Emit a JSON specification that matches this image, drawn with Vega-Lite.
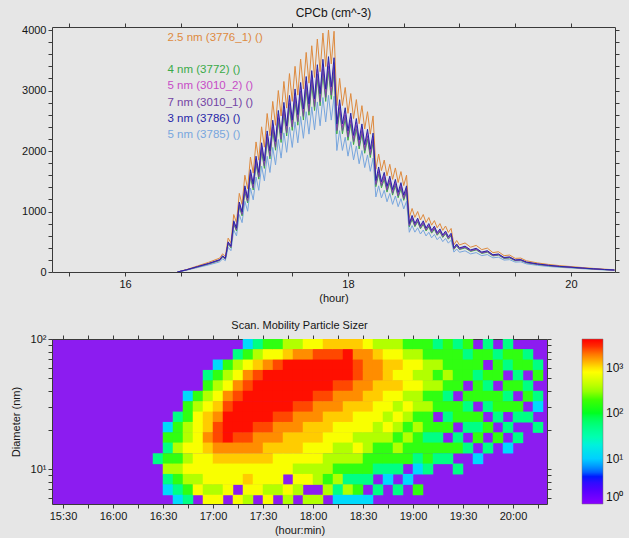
{
"$schema": "https://vega.github.io/schema/vega-lite/v6.json",
"background": "#e6e6e6",
"padding": {"left": 10, "top": 6, "right": 5, "bottom": 3},
"spacing": 17,
"config": {
 "font": "Liberation Sans",
 "view": {"stroke": null},
 "axis": {"grid": false, "domainColor": "#3a3a3a", "tickColor": "#3a3a3a", "labelColor": "#151515", "titleColor": "#151515", "labelFontSize": 11, "titleFontSize": 11, "titleFontWeight": "normal", "tickSize": 4, "labelPadding": 2, "labelFont": "Liberation Sans", "titleFont": "Liberation Sans", "labelFlush": false},
 "title": {"font": "Liberation Sans", "fontWeight": "normal", "color": "#151515"},
 "legend": {"labelFont": "Liberation Sans"}
},
"vconcat": [
{
 "width": 563, "height": 245,
 "title": {"text": "CPCb (cm^-3)", "fontSize": 12, "offset": 3},
 "data": {"values": [
{"s":"o","t":16.47,"v":0},{"s":"o","t":16.55,"v":40},{"s":"o","t":16.65,"v":100},{"s":"o","t":16.75,"v":160},{"s":"o","t":16.85,"v":230},
{"s":"o","t":16.875,"v":300},{"s":"o","t":16.9,"v":258},{"s":"o","t":16.925,"v":560},{"s":"o","t":16.95,"v":482},{"s":"o","t":16.975,"v":950},{"s":"o","t":17,"v":817},{"s":"o","t":17.025,"v":1300},{"s":"o","t":17.05,"v":1118},{"s":"o","t":17.075,"v":1600},{"s":"o","t":17.1,"v":1376},{"s":"o","t":17.125,"v":1900},{"s":"o","t":17.15,"v":1634},{"s":"o","t":17.175,"v":2150},{"s":"o","t":17.2,"v":1849},{"s":"o","t":17.225,"v":2400},{"s":"o","t":17.25,"v":2064},{"s":"o","t":17.275,"v":2620},{"s":"o","t":17.3,"v":2253},{"s":"o","t":17.325,"v":2820},{"s":"o","t":17.35,"v":2425},{"s":"o","t":17.375,"v":3000},{"s":"o","t":17.4,"v":2580},{"s":"o","t":17.425,"v":3150},{"s":"o","t":17.45,"v":2709},{"s":"o","t":17.475,"v":3280},{"s":"o","t":17.5,"v":2821},{"s":"o","t":17.525,"v":3400},{"s":"o","t":17.55,"v":2924},{"s":"o","t":17.575,"v":3520},{"s":"o","t":17.6,"v":3027},{"s":"o","t":17.625,"v":3630},{"s":"o","t":17.65,"v":3122},{"s":"o","t":17.675,"v":3740},{"s":"o","t":17.7,"v":3216},{"s":"o","t":17.725,"v":3850},{"s":"o","t":17.75,"v":3311},{"s":"o","t":17.775,"v":3950},{"s":"o","t":17.8,"v":3397},{"s":"o","t":17.825,"v":4000},{"s":"o","t":17.85,"v":3440},{"s":"o","t":17.875,"v":3980},{"s":"o","t":17.9,"v":2750},{"s":"o","t":17.925,"v":3200},{"s":"o","t":17.95,"v":2752},{"s":"o","t":17.975,"v":3050},{"s":"o","t":18,"v":2623},{"s":"o","t":18.025,"v":2950},{"s":"o","t":18.05,"v":2537},{"s":"o","t":18.075,"v":2850},{"s":"o","t":18.1,"v":2451},{"s":"o","t":18.125,"v":2750},{"s":"o","t":18.15,"v":2365},{"s":"o","t":18.175,"v":2650},{"s":"o","t":18.2,"v":2279},{"s":"o","t":18.225,"v":2580},{"s":"o","t":18.25,"v":1700},{"s":"o","t":18.275,"v":1950},{"s":"o","t":18.3,"v":1677},{"s":"o","t":18.325,"v":1850},{"s":"o","t":18.35,"v":1591},{"s":"o","t":18.375,"v":1780},{"s":"o","t":18.4,"v":1531},{"s":"o","t":18.425,"v":1720},{"s":"o","t":18.45,"v":1479},{"s":"o","t":18.475,"v":1660},{"s":"o","t":18.5,"v":1428},{"s":"o","t":18.525,"v":1600},{"s":"o","t":18.55,"v":900},{"s":"o","t":18.575,"v":1050},{"s":"o","t":18.6,"v":903},{"s":"o","t":18.625,"v":1000},{"s":"o","t":18.65,"v":860},{"s":"o","t":18.675,"v":950},{"s":"o","t":18.7,"v":817},{"s":"o","t":18.725,"v":900},{"s":"o","t":18.75,"v":774},{"s":"o","t":18.775,"v":850},{"s":"o","t":18.8,"v":731},{"s":"o","t":18.825,"v":800},{"s":"o","t":18.85,"v":688},{"s":"o","t":18.875,"v":760},{"s":"o","t":18.9,"v":654},{"s":"o","t":18.925,"v":720},{"s":"o","t":18.95,"v":450},{"s":"o","t":18.975,"v":520},{"s":"o","t":19,"v":447},
{"s":"o","t":19.05,"v":480},{"s":"o","t":19.1,"v":410},{"s":"o","t":19.15,"v":440},{"s":"o","t":19.2,"v":370},{"s":"o","t":19.25,"v":395},{"s":"o","t":19.3,"v":320},{"s":"o","t":19.35,"v":335},{"s":"o","t":19.4,"v":270},{"s":"o","t":19.45,"v":280},{"s":"o","t":19.5,"v":225},{"s":"o","t":19.55,"v":230},{"s":"o","t":19.6,"v":185},{"s":"o","t":19.7,"v":150},{"s":"o","t":19.8,"v":125},{"s":"o","t":19.9,"v":105},{"s":"o","t":20,"v":90},{"s":"o","t":20.1,"v":74},{"s":"o","t":20.2,"v":60},{"s":"o","t":20.3,"v":47},{"s":"o","t":20.39,"v":37},
{"s":"b","t":16.47,"v":0},{"s":"b","t":16.55,"v":29},{"s":"b","t":16.65,"v":73},{"s":"b","t":16.75,"v":117},{"s":"b","t":16.85,"v":168},
{"s":"b","t":16.875,"v":219},{"s":"b","t":16.9,"v":188},{"s":"b","t":16.925,"v":409},{"s":"b","t":16.95,"v":352},{"s":"b","t":16.975,"v":694},{"s":"b","t":17,"v":596},{"s":"b","t":17.025,"v":949},{"s":"b","t":17.05,"v":816},{"s":"b","t":17.075,"v":1168},{"s":"b","t":17.1,"v":1004},{"s":"b","t":17.125,"v":1387},{"s":"b","t":17.15,"v":1193},{"s":"b","t":17.175,"v":1570},{"s":"b","t":17.2,"v":1350},{"s":"b","t":17.225,"v":1752},{"s":"b","t":17.25,"v":1507},{"s":"b","t":17.275,"v":1913},{"s":"b","t":17.3,"v":1645},{"s":"b","t":17.325,"v":2059},{"s":"b","t":17.35,"v":1770},{"s":"b","t":17.375,"v":2190},{"s":"b","t":17.4,"v":1883},{"s":"b","t":17.425,"v":2300},{"s":"b","t":17.45,"v":1978},{"s":"b","t":17.475,"v":2394},{"s":"b","t":17.5,"v":2059},{"s":"b","t":17.525,"v":2482},{"s":"b","t":17.55,"v":2135},{"s":"b","t":17.575,"v":2570},{"s":"b","t":17.6,"v":2210},{"s":"b","t":17.625,"v":2650},{"s":"b","t":17.65,"v":2279},{"s":"b","t":17.675,"v":2730},{"s":"b","t":17.7,"v":2348},{"s":"b","t":17.725,"v":2811},{"s":"b","t":17.75,"v":2417},{"s":"b","t":17.775,"v":2884},{"s":"b","t":17.8,"v":2480},{"s":"b","t":17.825,"v":2920},{"s":"b","t":17.85,"v":2511},{"s":"b","t":17.875,"v":2905},{"s":"b","t":17.9,"v":2008},{"s":"b","t":17.925,"v":2336},{"s":"b","t":17.95,"v":2009},{"s":"b","t":17.975,"v":2227},{"s":"b","t":18,"v":1915},{"s":"b","t":18.025,"v":2154},{"s":"b","t":18.05,"v":1852},{"s":"b","t":18.075,"v":2081},{"s":"b","t":18.1,"v":1789},{"s":"b","t":18.125,"v":2008},{"s":"b","t":18.15,"v":1726},{"s":"b","t":18.175,"v":1935},{"s":"b","t":18.2,"v":1664},{"s":"b","t":18.225,"v":1883},{"s":"b","t":18.25,"v":1241},{"s":"b","t":18.275,"v":1424},{"s":"b","t":18.3,"v":1224},{"s":"b","t":18.325,"v":1351},{"s":"b","t":18.35,"v":1161},{"s":"b","t":18.375,"v":1299},{"s":"b","t":18.4,"v":1118},{"s":"b","t":18.425,"v":1256},{"s":"b","t":18.45,"v":1080},{"s":"b","t":18.475,"v":1212},{"s":"b","t":18.5,"v":1042},{"s":"b","t":18.525,"v":1168},{"s":"b","t":18.55,"v":657},{"s":"b","t":18.575,"v":767},{"s":"b","t":18.6,"v":659},{"s":"b","t":18.625,"v":730},{"s":"b","t":18.65,"v":628},{"s":"b","t":18.675,"v":694},{"s":"b","t":18.7,"v":596},{"s":"b","t":18.725,"v":657},{"s":"b","t":18.75,"v":565},{"s":"b","t":18.775,"v":621},{"s":"b","t":18.8,"v":534},{"s":"b","t":18.825,"v":584},{"s":"b","t":18.85,"v":502},{"s":"b","t":18.875,"v":555},{"s":"b","t":18.9,"v":477},{"s":"b","t":18.925,"v":526},{"s":"b","t":18.95,"v":329},{"s":"b","t":18.975,"v":380},{"s":"b","t":19,"v":326},
{"s":"b","t":19.05,"v":350},{"s":"b","t":19.1,"v":299},{"s":"b","t":19.15,"v":321},{"s":"b","t":19.2,"v":270},{"s":"b","t":19.25,"v":288},{"s":"b","t":19.3,"v":234},{"s":"b","t":19.35,"v":245},{"s":"b","t":19.4,"v":197},{"s":"b","t":19.45,"v":204},{"s":"b","t":19.5,"v":164},{"s":"b","t":19.55,"v":168},{"s":"b","t":19.6,"v":135},{"s":"b","t":19.7,"v":110},{"s":"b","t":19.8,"v":91},{"s":"b","t":19.9,"v":77},{"s":"b","t":20,"v":66},{"s":"b","t":20.1,"v":54},{"s":"b","t":20.2,"v":44},{"s":"b","t":20.3,"v":34},{"s":"b","t":20.39,"v":27},
{"s":"g","t":16.47,"v":0},{"s":"g","t":16.55,"v":33},{"s":"g","t":16.65,"v":83},{"s":"g","t":16.75,"v":133},{"s":"g","t":16.85,"v":191},
{"s":"g","t":16.875,"v":249},{"s":"g","t":16.9,"v":214},{"s":"g","t":16.925,"v":465},{"s":"g","t":16.95,"v":400},{"s":"g","t":16.975,"v":789},{"s":"g","t":17,"v":678},{"s":"g","t":17.025,"v":1079},{"s":"g","t":17.05,"v":928},{"s":"g","t":17.075,"v":1328},{"s":"g","t":17.1,"v":1142},{"s":"g","t":17.125,"v":1577},{"s":"g","t":17.15,"v":1356},{"s":"g","t":17.175,"v":1785},{"s":"g","t":17.2,"v":1535},{"s":"g","t":17.225,"v":1992},{"s":"g","t":17.25,"v":1713},{"s":"g","t":17.275,"v":2175},{"s":"g","t":17.3,"v":1870},{"s":"g","t":17.325,"v":2341},{"s":"g","t":17.35,"v":2013},{"s":"g","t":17.375,"v":2490},{"s":"g","t":17.4,"v":2141},{"s":"g","t":17.425,"v":2615},{"s":"g","t":17.45,"v":2248},{"s":"g","t":17.475,"v":2722},{"s":"g","t":17.5,"v":2341},{"s":"g","t":17.525,"v":2822},{"s":"g","t":17.55,"v":2427},{"s":"g","t":17.575,"v":2922},{"s":"g","t":17.6,"v":2512},{"s":"g","t":17.625,"v":3013},{"s":"g","t":17.65,"v":2591},{"s":"g","t":17.675,"v":3104},{"s":"g","t":17.7,"v":2669},{"s":"g","t":17.725,"v":3196},{"s":"g","t":17.75,"v":2748},{"s":"g","t":17.775,"v":3279},{"s":"g","t":17.8,"v":2820},{"s":"g","t":17.825,"v":3320},{"s":"g","t":17.85,"v":2855},{"s":"g","t":17.875,"v":3303},{"s":"g","t":17.9,"v":2283},{"s":"g","t":17.925,"v":2656},{"s":"g","t":17.95,"v":2284},{"s":"g","t":17.975,"v":2532},{"s":"g","t":18,"v":2177},{"s":"g","t":18.025,"v":2449},{"s":"g","t":18.05,"v":2106},{"s":"g","t":18.075,"v":2366},{"s":"g","t":18.1,"v":2034},{"s":"g","t":18.125,"v":2283},{"s":"g","t":18.15,"v":1963},{"s":"g","t":18.175,"v":2200},{"s":"g","t":18.2,"v":1892},{"s":"g","t":18.225,"v":2141},{"s":"g","t":18.25,"v":1411},{"s":"g","t":18.275,"v":1619},{"s":"g","t":18.3,"v":1392},{"s":"g","t":18.325,"v":1536},{"s":"g","t":18.35,"v":1321},{"s":"g","t":18.375,"v":1477},{"s":"g","t":18.4,"v":1271},{"s":"g","t":18.425,"v":1428},{"s":"g","t":18.45,"v":1228},{"s":"g","t":18.475,"v":1378},{"s":"g","t":18.5,"v":1185},{"s":"g","t":18.525,"v":1328},{"s":"g","t":18.55,"v":747},{"s":"g","t":18.575,"v":872},{"s":"g","t":18.6,"v":749},{"s":"g","t":18.625,"v":830},{"s":"g","t":18.65,"v":714},{"s":"g","t":18.675,"v":789},{"s":"g","t":18.7,"v":678},{"s":"g","t":18.725,"v":747},{"s":"g","t":18.75,"v":642},{"s":"g","t":18.775,"v":706},{"s":"g","t":18.8,"v":607},{"s":"g","t":18.825,"v":664},{"s":"g","t":18.85,"v":571},{"s":"g","t":18.875,"v":631},{"s":"g","t":18.9,"v":543},{"s":"g","t":18.925,"v":598},{"s":"g","t":18.95,"v":374},{"s":"g","t":18.975,"v":432},{"s":"g","t":19,"v":371},
{"s":"g","t":19.05,"v":398},{"s":"g","t":19.1,"v":340},{"s":"g","t":19.15,"v":365},{"s":"g","t":19.2,"v":307},{"s":"g","t":19.25,"v":328},{"s":"g","t":19.3,"v":266},{"s":"g","t":19.35,"v":278},{"s":"g","t":19.4,"v":224},{"s":"g","t":19.45,"v":232},{"s":"g","t":19.5,"v":187},{"s":"g","t":19.55,"v":191},{"s":"g","t":19.6,"v":154},{"s":"g","t":19.7,"v":125},{"s":"g","t":19.8,"v":104},{"s":"g","t":19.9,"v":87},{"s":"g","t":20,"v":75},{"s":"g","t":20.1,"v":61},{"s":"g","t":20.2,"v":50},{"s":"g","t":20.3,"v":39},{"s":"g","t":20.39,"v":31},
{"s":"m","t":16.47,"v":0},{"s":"m","t":16.55,"v":35},{"s":"m","t":16.65,"v":87},{"s":"m","t":16.75,"v":139},{"s":"m","t":16.85,"v":200},
{"s":"m","t":16.875,"v":261},{"s":"m","t":16.9,"v":224},{"s":"m","t":16.925,"v":487},{"s":"m","t":16.95,"v":419},{"s":"m","t":16.975,"v":827},{"s":"m","t":17,"v":711},{"s":"m","t":17.025,"v":1131},{"s":"m","t":17.05,"v":973},{"s":"m","t":17.075,"v":1392},{"s":"m","t":17.1,"v":1197},{"s":"m","t":17.125,"v":1653},{"s":"m","t":17.15,"v":1422},{"s":"m","t":17.175,"v":1871},{"s":"m","t":17.2,"v":1609},{"s":"m","t":17.225,"v":2088},{"s":"m","t":17.25,"v":1796},{"s":"m","t":17.275,"v":2279},{"s":"m","t":17.3,"v":1960},{"s":"m","t":17.325,"v":2453},{"s":"m","t":17.35,"v":2110},{"s":"m","t":17.375,"v":2610},{"s":"m","t":17.4,"v":2245},{"s":"m","t":17.425,"v":2741},{"s":"m","t":17.45,"v":2357},{"s":"m","t":17.475,"v":2854},{"s":"m","t":17.5,"v":2454},{"s":"m","t":17.525,"v":2958},{"s":"m","t":17.55,"v":2544},{"s":"m","t":17.575,"v":3062},{"s":"m","t":17.6,"v":2633},{"s":"m","t":17.625,"v":3158},{"s":"m","t":17.65,"v":2716},{"s":"m","t":17.675,"v":3254},{"s":"m","t":17.7,"v":2798},{"s":"m","t":17.725,"v":3350},{"s":"m","t":17.75,"v":2881},{"s":"m","t":17.775,"v":3437},{"s":"m","t":17.8,"v":2955},{"s":"m","t":17.825,"v":3480},{"s":"m","t":17.85,"v":2993},{"s":"m","t":17.875,"v":3463},{"s":"m","t":17.9,"v":2393},{"s":"m","t":17.925,"v":2784},{"s":"m","t":17.95,"v":2394},{"s":"m","t":17.975,"v":2654},{"s":"m","t":18,"v":2282},{"s":"m","t":18.025,"v":2567},{"s":"m","t":18.05,"v":2207},{"s":"m","t":18.075,"v":2480},{"s":"m","t":18.1,"v":2132},{"s":"m","t":18.125,"v":2393},{"s":"m","t":18.15,"v":2058},{"s":"m","t":18.175,"v":2306},{"s":"m","t":18.2,"v":1983},{"s":"m","t":18.225,"v":2245},{"s":"m","t":18.25,"v":1479},{"s":"m","t":18.275,"v":1697},{"s":"m","t":18.3,"v":1459},{"s":"m","t":18.325,"v":1610},{"s":"m","t":18.35,"v":1384},{"s":"m","t":18.375,"v":1549},{"s":"m","t":18.4,"v":1332},{"s":"m","t":18.425,"v":1496},{"s":"m","t":18.45,"v":1287},{"s":"m","t":18.475,"v":1444},{"s":"m","t":18.5,"v":1242},{"s":"m","t":18.525,"v":1392},{"s":"m","t":18.55,"v":783},{"s":"m","t":18.575,"v":914},{"s":"m","t":18.6,"v":786},{"s":"m","t":18.625,"v":870},{"s":"m","t":18.65,"v":748},{"s":"m","t":18.675,"v":827},{"s":"m","t":18.7,"v":711},{"s":"m","t":18.725,"v":783},{"s":"m","t":18.75,"v":673},{"s":"m","t":18.775,"v":740},{"s":"m","t":18.8,"v":636},{"s":"m","t":18.825,"v":696},{"s":"m","t":18.85,"v":599},{"s":"m","t":18.875,"v":661},{"s":"m","t":18.9,"v":569},{"s":"m","t":18.925,"v":626},{"s":"m","t":18.95,"v":392},{"s":"m","t":18.975,"v":452},{"s":"m","t":19,"v":389},
{"s":"m","t":19.05,"v":418},{"s":"m","t":19.1,"v":357},{"s":"m","t":19.15,"v":383},{"s":"m","t":19.2,"v":322},{"s":"m","t":19.25,"v":344},{"s":"m","t":19.3,"v":278},{"s":"m","t":19.35,"v":291},{"s":"m","t":19.4,"v":235},{"s":"m","t":19.45,"v":244},{"s":"m","t":19.5,"v":196},{"s":"m","t":19.55,"v":200},{"s":"m","t":19.6,"v":161},{"s":"m","t":19.7,"v":131},{"s":"m","t":19.8,"v":109},{"s":"m","t":19.9,"v":91},{"s":"m","t":20,"v":78},{"s":"m","t":20.1,"v":64},{"s":"m","t":20.2,"v":52},{"s":"m","t":20.3,"v":41},{"s":"m","t":20.39,"v":32},
{"s":"p","t":16.47,"v":0},{"s":"p","t":16.55,"v":34},{"s":"p","t":16.65,"v":85},{"s":"p","t":16.75,"v":136},{"s":"p","t":16.85,"v":196},
{"s":"p","t":16.875,"v":255},{"s":"p","t":16.9,"v":219},{"s":"p","t":16.925,"v":476},{"s":"p","t":16.95,"v":410},{"s":"p","t":16.975,"v":808},{"s":"p","t":17,"v":694},{"s":"p","t":17.025,"v":1105},{"s":"p","t":17.05,"v":950},{"s":"p","t":17.075,"v":1360},{"s":"p","t":17.1,"v":1170},{"s":"p","t":17.125,"v":1615},{"s":"p","t":17.15,"v":1389},{"s":"p","t":17.175,"v":1828},{"s":"p","t":17.2,"v":1572},{"s":"p","t":17.225,"v":2040},{"s":"p","t":17.25,"v":1754},{"s":"p","t":17.275,"v":2227},{"s":"p","t":17.3,"v":1915},{"s":"p","t":17.325,"v":2397},{"s":"p","t":17.35,"v":2061},{"s":"p","t":17.375,"v":2550},{"s":"p","t":17.4,"v":2193},{"s":"p","t":17.425,"v":2678},{"s":"p","t":17.45,"v":2303},{"s":"p","t":17.475,"v":2788},{"s":"p","t":17.5,"v":2398},{"s":"p","t":17.525,"v":2890},{"s":"p","t":17.55,"v":2485},{"s":"p","t":17.575,"v":2992},{"s":"p","t":17.6,"v":2573},{"s":"p","t":17.625,"v":3086},{"s":"p","t":17.65,"v":2654},{"s":"p","t":17.675,"v":3179},{"s":"p","t":17.7,"v":2734},{"s":"p","t":17.725,"v":3273},{"s":"p","t":17.75,"v":2814},{"s":"p","t":17.775,"v":3358},{"s":"p","t":17.8,"v":2887},{"s":"p","t":17.825,"v":3400},{"s":"p","t":17.85,"v":2924},{"s":"p","t":17.875,"v":3383},{"s":"p","t":17.9,"v":2338},{"s":"p","t":17.925,"v":2720},{"s":"p","t":17.95,"v":2339},{"s":"p","t":17.975,"v":2593},{"s":"p","t":18,"v":2230},{"s":"p","t":18.025,"v":2508},{"s":"p","t":18.05,"v":2156},{"s":"p","t":18.075,"v":2423},{"s":"p","t":18.1,"v":2083},{"s":"p","t":18.125,"v":2338},{"s":"p","t":18.15,"v":2010},{"s":"p","t":18.175,"v":2253},{"s":"p","t":18.2,"v":1937},{"s":"p","t":18.225,"v":2193},{"s":"p","t":18.25,"v":1445},{"s":"p","t":18.275,"v":1658},{"s":"p","t":18.3,"v":1425},{"s":"p","t":18.325,"v":1573},{"s":"p","t":18.35,"v":1352},{"s":"p","t":18.375,"v":1513},{"s":"p","t":18.4,"v":1301},{"s":"p","t":18.425,"v":1462},{"s":"p","t":18.45,"v":1257},{"s":"p","t":18.475,"v":1411},{"s":"p","t":18.5,"v":1214},{"s":"p","t":18.525,"v":1360},{"s":"p","t":18.55,"v":765},{"s":"p","t":18.575,"v":893},{"s":"p","t":18.6,"v":768},{"s":"p","t":18.625,"v":850},{"s":"p","t":18.65,"v":731},{"s":"p","t":18.675,"v":808},{"s":"p","t":18.7,"v":694},{"s":"p","t":18.725,"v":765},{"s":"p","t":18.75,"v":658},{"s":"p","t":18.775,"v":723},{"s":"p","t":18.8,"v":621},{"s":"p","t":18.825,"v":680},{"s":"p","t":18.85,"v":585},{"s":"p","t":18.875,"v":646},{"s":"p","t":18.9,"v":556},{"s":"p","t":18.925,"v":612},{"s":"p","t":18.95,"v":383},{"s":"p","t":18.975,"v":442},{"s":"p","t":19,"v":380},
{"s":"p","t":19.05,"v":408},{"s":"p","t":19.1,"v":349},{"s":"p","t":19.15,"v":374},{"s":"p","t":19.2,"v":315},{"s":"p","t":19.25,"v":336},{"s":"p","t":19.3,"v":272},{"s":"p","t":19.35,"v":285},{"s":"p","t":19.4,"v":230},{"s":"p","t":19.45,"v":238},{"s":"p","t":19.5,"v":191},{"s":"p","t":19.55,"v":196},{"s":"p","t":19.6,"v":157},{"s":"p","t":19.7,"v":128},{"s":"p","t":19.8,"v":106},{"s":"p","t":19.9,"v":89},{"s":"p","t":20,"v":77},{"s":"p","t":20.1,"v":63},{"s":"p","t":20.2,"v":51},{"s":"p","t":20.3,"v":40},{"s":"p","t":20.39,"v":31},
{"s":"n","t":16.47,"v":0},{"s":"n","t":16.55,"v":36},{"s":"n","t":16.65,"v":89},{"s":"n","t":16.75,"v":142},{"s":"n","t":16.85,"v":205},
{"s":"n","t":16.875,"v":267},{"s":"n","t":16.9,"v":230},{"s":"n","t":16.925,"v":498},{"s":"n","t":16.95,"v":429},{"s":"n","t":16.975,"v":846},{"s":"n","t":17,"v":727},{"s":"n","t":17.025,"v":1157},{"s":"n","t":17.05,"v":995},{"s":"n","t":17.075,"v":1424},{"s":"n","t":17.1,"v":1225},{"s":"n","t":17.125,"v":1691},{"s":"n","t":17.15,"v":1454},{"s":"n","t":17.175,"v":1914},{"s":"n","t":17.2,"v":1646},{"s":"n","t":17.225,"v":2136},{"s":"n","t":17.25,"v":1837},{"s":"n","t":17.275,"v":2332},{"s":"n","t":17.3,"v":2005},{"s":"n","t":17.325,"v":2510},{"s":"n","t":17.35,"v":2158},{"s":"n","t":17.375,"v":2670},{"s":"n","t":17.4,"v":2296},{"s":"n","t":17.425,"v":2804},{"s":"n","t":17.45,"v":2411},{"s":"n","t":17.475,"v":2919},{"s":"n","t":17.5,"v":2511},{"s":"n","t":17.525,"v":3026},{"s":"n","t":17.55,"v":2602},{"s":"n","t":17.575,"v":3133},{"s":"n","t":17.6,"v":2694},{"s":"n","t":17.625,"v":3231},{"s":"n","t":17.65,"v":2779},{"s":"n","t":17.675,"v":3329},{"s":"n","t":17.7,"v":2862},{"s":"n","t":17.725,"v":3427},{"s":"n","t":17.75,"v":2947},{"s":"n","t":17.775,"v":3516},{"s":"n","t":17.8,"v":3023},{"s":"n","t":17.825,"v":3560},{"s":"n","t":17.85,"v":3062},{"s":"n","t":17.875,"v":3542},{"s":"n","t":17.9,"v":2448},{"s":"n","t":17.925,"v":2848},{"s":"n","t":17.95,"v":2449},{"s":"n","t":17.975,"v":2715},{"s":"n","t":18,"v":2334},{"s":"n","t":18.025,"v":2626},{"s":"n","t":18.05,"v":2258},{"s":"n","t":18.075,"v":2537},{"s":"n","t":18.1,"v":2181},{"s":"n","t":18.125,"v":2448},{"s":"n","t":18.15,"v":2105},{"s":"n","t":18.175,"v":2359},{"s":"n","t":18.2,"v":2028},{"s":"n","t":18.225,"v":2296},{"s":"n","t":18.25,"v":1513},{"s":"n","t":18.275,"v":1736},{"s":"n","t":18.3,"v":1493},{"s":"n","t":18.325,"v":1647},{"s":"n","t":18.35,"v":1416},{"s":"n","t":18.375,"v":1584},{"s":"n","t":18.4,"v":1363},{"s":"n","t":18.425,"v":1531},{"s":"n","t":18.45,"v":1316},{"s":"n","t":18.475,"v":1477},{"s":"n","t":18.5,"v":1271},{"s":"n","t":18.525,"v":1424},{"s":"n","t":18.55,"v":801},{"s":"n","t":18.575,"v":935},{"s":"n","t":18.6,"v":804},{"s":"n","t":18.625,"v":890},{"s":"n","t":18.65,"v":765},{"s":"n","t":18.675,"v":846},{"s":"n","t":18.7,"v":727},{"s":"n","t":18.725,"v":801},{"s":"n","t":18.75,"v":689},{"s":"n","t":18.775,"v":757},{"s":"n","t":18.8,"v":651},{"s":"n","t":18.825,"v":712},{"s":"n","t":18.85,"v":612},{"s":"n","t":18.875,"v":676},{"s":"n","t":18.9,"v":582},{"s":"n","t":18.925,"v":641},{"s":"n","t":18.95,"v":401},{"s":"n","t":18.975,"v":463},{"s":"n","t":19,"v":398},
{"s":"n","t":19.05,"v":427},{"s":"n","t":19.1,"v":365},{"s":"n","t":19.15,"v":392},{"s":"n","t":19.2,"v":329},{"s":"n","t":19.25,"v":352},{"s":"n","t":19.3,"v":285},{"s":"n","t":19.35,"v":298},{"s":"n","t":19.4,"v":240},{"s":"n","t":19.45,"v":249},{"s":"n","t":19.5,"v":200},{"s":"n","t":19.55,"v":205},{"s":"n","t":19.6,"v":165},{"s":"n","t":19.7,"v":134},{"s":"n","t":19.8,"v":111},{"s":"n","t":19.9,"v":93},{"s":"n","t":20,"v":80},{"s":"n","t":20.1,"v":66},{"s":"n","t":20.2,"v":53},{"s":"n","t":20.3,"v":42},{"s":"n","t":20.39,"v":33}
 ]},
 "layer": [
  {
   "transform": [{"filter": "datum.s == 'o' || datum.s == 'b' || datum.s == 'g'"}],
   "mark": {"type": "line", "strokeWidth": 1, "clip": true},
   "encoding": {
    "x": {"field": "t", "type": "quantitative", "scale": {"domain": [15.345, 20.395], "nice": false, "zero": false},
          "axis": {"orient": "bottom", "values": [15.5,16,16.5,17,17.5,18,18.5,19,19.5,20], "labelExpr": "datum.value % 2 == 0 ? '' + datum.value : ''", "title": "(hour)", "titlePadding": 3}},
    "y": {"field": "v", "type": "quantitative", "scale": {"domain": [0, 4050], "nice": false},
          "axis": {"orient": "left", "values": [0,200,400,600,800,1000,1200,1400,1600,1800,2000,2200,2400,2600,2800,3000,3200,3400,3600,3800,4000], "labelExpr": "datum.value % 1000 == 0 ? '' + datum.value : ''", "title": null}},
    "stroke": {"field": "s", "type": "nominal",
          "scale": {"domain": ["o","x","g","m","p","n","b"], "range": ["#de8a3e","#e6e6e6","#3aaa48","#c64cc6","#7444a4","#2626a8","#78a6de"]},
          "legend": {"orient": "none", "legendX": 104, "legendY": 5, "direction": "vertical", "title": null, "padding": 0,
                     "labelExpr": "datum.label == 'o' ? '2.5 nm (3776_1) ()' : datum.label == 'g' ? '4 nm (3772) ()' : datum.label == 'm' ? '5 nm (3010_2) ()' : datum.label == 'p' ? '7 nm (3010_1) ()' : datum.label == 'n' ? '3 nm (3786) ()' : datum.label == 'b' ? '5 nm (3785) ()' : ''",
                     "symbolSize": 1, "symbolOpacity": 0, "symbolStrokeWidth": 0, "labelOffset": 0, "labelFontSize": 11.5, "rowPadding": 3.2,
                     "encode": {"labels": {"update": {"fill": {"scale": "stroke", "field": "value"}}}}}}
   }
  },
  {
   "transform": [{"filter": "datum.s == 'm' || datum.s == 'p' || datum.s == 'n'"}],
   "mark": {"type": "line", "strokeWidth": 1, "clip": true},
   "encoding": {
    "x": {"field": "t", "type": "quantitative", "scale": {"domain": [15.345, 20.395], "nice": false, "zero": false},
          "axis": {"orient": "top", "values": [15.5,16,16.5,17,17.5,18,18.5,19,19.5,20], "labels": false, "title": null}},
    "y": {"field": "v", "type": "quantitative", "scale": {"domain": [0, 4050], "nice": false},
          "axis": {"orient": "right", "values": [0,200,400,600,800,1000,1200,1400,1600,1800,2000,2200,2400,2600,2800,3000,3200,3400,3600,3800,4000], "labels": false, "title": null}},
    "stroke": {"field": "s", "type": "nominal",
          "scale": {"domain": ["o","x","g","m","p","n","b"], "range": ["#de8a3e","#e6e6e6","#3aaa48","#c64cc6","#7444a4","#2626a8","#78a6de"]}}
   }
  }
 ],
 "resolve": {"axis": {"x": "independent", "y": "independent"}}
},
{
 "width": 495, "height": 165,
 "title": {"text": "Scan. Mobility Particle Sizer", "fontSize": 11, "offset": 2},
 "view": {"fill": "#8c1cf0", "stroke": null},
 "data": {"values": [
{"t":16.45,"d":12,"v":50},
{"t":16.55,"d":20.9,"v":12},{"t":16.55,"d":17.4,"v":150},{"t":16.55,"d":14.5,"v":50},{"t":16.55,"d":12,"v":150},{"t":16.55,"d":10,"v":380},{"t":16.55,"d":8.32,"v":50},{"t":16.55,"d":6.92,"v":12},
{"t":16.65,"d":25.1,"v":50},{"t":16.65,"d":20.9,"v":150},{"t":16.65,"d":17.4,"v":150},{"t":16.65,"d":14.5,"v":380},{"t":16.65,"d":12,"v":150},{"t":16.65,"d":10,"v":380},{"t":16.65,"d":8.32,"v":150},{"t":16.65,"d":6.92,"v":50},{"t":16.65,"d":5.75,"v":12},
{"t":16.75,"d":36.3,"v":12},{"t":16.75,"d":30.2,"v":150},{"t":16.75,"d":25.1,"v":150},{"t":16.75,"d":20.9,"v":380},{"t":16.75,"d":17.4,"v":380},{"t":16.75,"d":14.5,"v":750},{"t":16.75,"d":12,"v":380},{"t":16.75,"d":10,"v":750},{"t":16.75,"d":8.32,"v":380},{"t":16.75,"d":6.92,"v":150},{"t":16.75,"d":5.75,"v":50},
{"t":16.85,"d":36.3,"v":150},{"t":16.85,"d":30.2,"v":380},{"t":16.85,"d":25.1,"v":750},{"t":16.85,"d":20.9,"v":750},{"t":16.85,"d":17.4,"v":750},{"t":16.85,"d":14.5,"v":750},{"t":16.85,"d":12,"v":750},{"t":16.85,"d":10,"v":750},{"t":16.85,"d":8.32,"v":380},{"t":16.85,"d":6.92,"v":750},
{"t":16.95,"d":52.5,"v":50},{"t":16.95,"d":43.7,"v":150},{"t":16.95,"d":36.3,"v":380},{"t":16.95,"d":30.2,"v":750},{"t":16.95,"d":25.1,"v":1200},{"t":16.95,"d":20.9,"v":1200},{"t":16.95,"d":17.4,"v":1800},{"t":16.95,"d":14.5,"v":1200},{"t":16.95,"d":12,"v":750},{"t":16.95,"d":10,"v":750},{"t":16.95,"d":8.32,"v":750},{"t":16.95,"d":6.92,"v":380},{"t":16.95,"d":5.75,"v":750},
{"t":17.05,"d":63.1,"v":12},{"t":17.05,"d":52.5,"v":150},{"t":17.05,"d":43.7,"v":380},{"t":17.05,"d":36.3,"v":750},{"t":17.05,"d":30.2,"v":1200},{"t":17.05,"d":25.1,"v":1800},{"t":17.05,"d":20.9,"v":2600},{"t":17.05,"d":17.4,"v":2600},{"t":17.05,"d":14.5,"v":1800},{"t":17.05,"d":12,"v":1200},{"t":17.05,"d":10,"v":750},{"t":17.05,"d":8.32,"v":750},{"t":17.05,"d":6.92,"v":380},{"t":17.05,"d":5.75,"v":750},
{"t":17.15,"d":63.1,"v":150},{"t":17.15,"d":52.5,"v":380},{"t":17.15,"d":43.7,"v":750},{"t":17.15,"d":36.3,"v":1800},{"t":17.15,"d":30.2,"v":2600},{"t":17.15,"d":25.1,"v":3500},{"t":17.15,"d":20.9,"v":3500},{"t":17.15,"d":17.4,"v":3500},{"t":17.15,"d":14.5,"v":1800},{"t":17.15,"d":12,"v":1200},{"t":17.15,"d":10,"v":750},{"t":17.15,"d":8.32,"v":750},{"t":17.15,"d":6.92,"v":750},
{"t":17.25,"d":75.9,"v":50},{"t":17.25,"d":63.1,"v":380},{"t":17.25,"d":52.5,"v":750},{"t":17.25,"d":43.7,"v":1800},{"t":17.25,"d":36.3,"v":2600},{"t":17.25,"d":30.2,"v":3500},{"t":17.25,"d":25.1,"v":3500},{"t":17.25,"d":20.9,"v":3500},{"t":17.25,"d":17.4,"v":2600},{"t":17.25,"d":14.5,"v":1800},{"t":17.25,"d":12,"v":1200},{"t":17.25,"d":10,"v":750},{"t":17.25,"d":8.32,"v":750},{"t":17.25,"d":5.75,"v":750},
{"t":17.35,"d":91.2,"v":12},{"t":17.35,"d":75.9,"v":150},{"t":17.35,"d":63.1,"v":750},{"t":17.35,"d":52.5,"v":1800},{"t":17.35,"d":43.7,"v":2600},{"t":17.35,"d":36.3,"v":3500},{"t":17.35,"d":30.2,"v":3500},{"t":17.35,"d":25.1,"v":3500},{"t":17.35,"d":20.9,"v":3500},{"t":17.35,"d":17.4,"v":2600},{"t":17.35,"d":14.5,"v":1800},{"t":17.35,"d":12,"v":1200},{"t":17.35,"d":10,"v":750},{"t":17.35,"d":8.32,"v":1200},{"t":17.35,"d":6.92,"v":750},{"t":17.35,"d":5.75,"v":380},
{"t":17.45,"d":91.2,"v":50},{"t":17.45,"d":75.9,"v":380},{"t":17.45,"d":63.1,"v":1200},{"t":17.45,"d":52.5,"v":2600},{"t":17.45,"d":43.7,"v":3500},{"t":17.45,"d":36.3,"v":3500},{"t":17.45,"d":30.2,"v":3500},{"t":17.45,"d":25.1,"v":3500},{"t":17.45,"d":20.9,"v":2600},{"t":17.45,"d":17.4,"v":1800},{"t":17.45,"d":14.5,"v":1800},{"t":17.45,"d":12,"v":1200},{"t":17.45,"d":10,"v":750},{"t":17.45,"d":8.32,"v":750},{"t":17.45,"d":6.92,"v":750},
{"t":17.55,"d":91.2,"v":150},{"t":17.55,"d":75.9,"v":750},{"t":17.55,"d":63.1,"v":1800},{"t":17.55,"d":52.5,"v":3500},{"t":17.55,"d":43.7,"v":3500},{"t":17.55,"d":36.3,"v":3500},{"t":17.55,"d":30.2,"v":3500},{"t":17.55,"d":25.1,"v":3500},{"t":17.55,"d":20.9,"v":2600},{"t":17.55,"d":17.4,"v":1800},{"t":17.55,"d":14.5,"v":1200},{"t":17.55,"d":12,"v":1200},{"t":17.55,"d":10,"v":750},{"t":17.55,"d":8.32,"v":750},{"t":17.55,"d":6.92,"v":380},{"t":17.55,"d":5.75,"v":750},
{"t":17.65,"d":91.2,"v":150},{"t":17.65,"d":75.9,"v":750},{"t":17.65,"d":63.1,"v":2600},{"t":17.65,"d":52.5,"v":3500},{"t":17.65,"d":43.7,"v":3500},{"t":17.65,"d":36.3,"v":3500},{"t":17.65,"d":30.2,"v":3500},{"t":17.65,"d":25.1,"v":2600},{"t":17.65,"d":20.9,"v":1800},{"t":17.65,"d":17.4,"v":1800},{"t":17.65,"d":14.5,"v":1200},{"t":17.65,"d":12,"v":750},{"t":17.65,"d":10,"v":750},{"t":17.65,"d":8.32,"v":750},{"t":17.65,"d":6.92,"v":380},
{"t":17.75,"d":91.2,"v":380},{"t":17.75,"d":75.9,"v":1200},{"t":17.75,"d":63.1,"v":3500},{"t":17.75,"d":52.5,"v":3500},{"t":17.75,"d":43.7,"v":3500},{"t":17.75,"d":36.3,"v":3500},{"t":17.75,"d":30.2,"v":3500},{"t":17.75,"d":25.1,"v":2600},{"t":17.75,"d":20.9,"v":1800},{"t":17.75,"d":17.4,"v":1200},{"t":17.75,"d":14.5,"v":1200},{"t":17.75,"d":12,"v":750},{"t":17.75,"d":10,"v":750},{"t":17.75,"d":6.92,"v":750},{"t":17.75,"d":5.75,"v":380},
{"t":17.85,"d":91.2,"v":380},{"t":17.85,"d":75.9,"v":1800},{"t":17.85,"d":63.1,"v":3500},{"t":17.85,"d":52.5,"v":3500},{"t":17.85,"d":43.7,"v":3500},{"t":17.85,"d":36.3,"v":3500},{"t":17.85,"d":30.2,"v":2600},{"t":17.85,"d":25.1,"v":1800},{"t":17.85,"d":20.9,"v":1800},{"t":17.85,"d":17.4,"v":1200},{"t":17.85,"d":14.5,"v":1200},{"t":17.85,"d":12,"v":750},{"t":17.85,"d":10,"v":380},{"t":17.85,"d":8.32,"v":750},{"t":17.85,"d":6.92,"v":380},
{"t":17.95,"d":91.2,"v":750},{"t":17.95,"d":75.9,"v":1800},{"t":17.95,"d":63.1,"v":3500},{"t":17.95,"d":52.5,"v":3500},{"t":17.95,"d":43.7,"v":3500},{"t":17.95,"d":36.3,"v":3500},{"t":17.95,"d":30.2,"v":2600},{"t":17.95,"d":25.1,"v":1800},{"t":17.95,"d":20.9,"v":1200},{"t":17.95,"d":17.4,"v":1200},{"t":17.95,"d":14.5,"v":750},{"t":17.95,"d":12,"v":750},{"t":17.95,"d":10,"v":380},{"t":17.95,"d":8.32,"v":750},{"t":17.95,"d":5.75,"v":380},
{"t":18.05,"d":91.2,"v":750},{"t":18.05,"d":75.9,"v":2600},{"t":18.05,"d":63.1,"v":3500},{"t":18.05,"d":52.5,"v":3500},{"t":18.05,"d":43.7,"v":3500},{"t":18.05,"d":36.3,"v":2600},{"t":18.05,"d":30.2,"v":1800},{"t":18.05,"d":25.1,"v":1800},{"t":18.05,"d":20.9,"v":1200},{"t":18.05,"d":17.4,"v":1200},{"t":18.05,"d":14.5,"v":750},{"t":18.05,"d":12,"v":750},{"t":18.05,"d":10,"v":380},{"t":18.05,"d":8.32,"v":380},{"t":18.05,"d":5.75,"v":380},
{"t":18.15,"d":91.2,"v":1200},{"t":18.15,"d":75.9,"v":2600},{"t":18.15,"d":63.1,"v":3500},{"t":18.15,"d":52.5,"v":3500},{"t":18.15,"d":43.7,"v":3500},{"t":18.15,"d":36.3,"v":2600},{"t":18.15,"d":30.2,"v":1800},{"t":18.15,"d":25.1,"v":1200},{"t":18.15,"d":20.9,"v":1200},{"t":18.15,"d":17.4,"v":750},{"t":18.15,"d":14.5,"v":750},{"t":18.15,"d":12,"v":380},{"t":18.15,"d":10,"v":380},{"t":18.15,"d":8.32,"v":150},{"t":18.15,"d":6.92,"v":380},
{"t":18.25,"d":91.2,"v":1200},{"t":18.25,"d":75.9,"v":2600},{"t":18.25,"d":63.1,"v":3500},{"t":18.25,"d":52.5,"v":3500},{"t":18.25,"d":43.7,"v":2600},{"t":18.25,"d":36.3,"v":1800},{"t":18.25,"d":30.2,"v":1800},{"t":18.25,"d":25.1,"v":1200},{"t":18.25,"d":20.9,"v":750},{"t":18.25,"d":17.4,"v":750},{"t":18.25,"d":14.5,"v":380},{"t":18.25,"d":12,"v":380},{"t":18.25,"d":10,"v":150},{"t":18.25,"d":8.32,"v":380},{"t":18.25,"d":6.92,"v":50},{"t":18.25,"d":5.75,"v":12},
{"t":18.35,"d":91.2,"v":1200},{"t":18.35,"d":75.9,"v":3500},{"t":18.35,"d":63.1,"v":3500},{"t":18.35,"d":52.5,"v":3500},{"t":18.35,"d":43.7,"v":2600},{"t":18.35,"d":36.3,"v":1800},{"t":18.35,"d":30.2,"v":1200},{"t":18.35,"d":25.1,"v":1200},{"t":18.35,"d":20.9,"v":750},{"t":18.35,"d":17.4,"v":750},{"t":18.35,"d":14.5,"v":380},{"t":18.35,"d":12,"v":380},{"t":18.35,"d":10,"v":150},{"t":18.35,"d":8.32,"v":50},{"t":18.35,"d":6.92,"v":380},{"t":18.35,"d":5.75,"v":12},
{"t":18.45,"d":91.2,"v":1200},{"t":18.45,"d":75.9,"v":1800},{"t":18.45,"d":63.1,"v":2600},{"t":18.45,"d":52.5,"v":2600},{"t":18.45,"d":43.7,"v":1800},{"t":18.45,"d":36.3,"v":1800},{"t":18.45,"d":30.2,"v":1200},{"t":18.45,"d":25.1,"v":750},{"t":18.45,"d":20.9,"v":750},{"t":18.45,"d":17.4,"v":380},{"t":18.45,"d":14.5,"v":750},{"t":18.45,"d":12,"v":380},{"t":18.45,"d":10,"v":150},{"t":18.45,"d":8.32,"v":50},{"t":18.45,"d":6.92,"v":150},{"t":18.45,"d":5.75,"v":12},
{"t":18.55,"d":91.2,"v":750},{"t":18.55,"d":75.9,"v":1800},{"t":18.55,"d":63.1,"v":1800},{"t":18.55,"d":52.5,"v":1800},{"t":18.55,"d":43.7,"v":1800},{"t":18.55,"d":36.3,"v":1200},{"t":18.55,"d":30.2,"v":1200},{"t":18.55,"d":25.1,"v":750},{"t":18.55,"d":20.9,"v":750},{"t":18.55,"d":17.4,"v":380},{"t":18.55,"d":14.5,"v":380},{"t":18.55,"d":12,"v":150},{"t":18.55,"d":10,"v":150},{"t":18.55,"d":8.32,"v":50},{"t":18.55,"d":5.75,"v":12},
{"t":18.65,"d":91.2,"v":380},{"t":18.65,"d":75.9,"v":1200},{"t":18.65,"d":63.1,"v":1800},{"t":18.65,"d":52.5,"v":1800},{"t":18.65,"d":43.7,"v":1200},{"t":18.65,"d":36.3,"v":1200},{"t":18.65,"d":30.2,"v":750},{"t":18.65,"d":25.1,"v":750},{"t":18.65,"d":20.9,"v":380},{"t":18.65,"d":17.4,"v":380},{"t":18.65,"d":14.5,"v":150},{"t":18.65,"d":12,"v":150},{"t":18.65,"d":10,"v":50},{"t":18.65,"d":6.92,"v":50},
{"t":18.75,"d":91.2,"v":380},{"t":18.75,"d":75.9,"v":750},{"t":18.75,"d":63.1,"v":1200},{"t":18.75,"d":52.5,"v":1200},{"t":18.75,"d":43.7,"v":1200},{"t":18.75,"d":36.3,"v":750},{"t":18.75,"d":30.2,"v":750},{"t":18.75,"d":25.1,"v":380},{"t":18.75,"d":20.9,"v":750},{"t":18.75,"d":17.4,"v":380},{"t":18.75,"d":14.5,"v":150},{"t":18.75,"d":12,"v":150},{"t":18.75,"d":10,"v":50},{"t":18.75,"d":8.32,"v":12},
{"t":18.85,"d":91.2,"v":380},{"t":18.85,"d":75.9,"v":750},{"t":18.85,"d":63.1,"v":1200},{"t":18.85,"d":52.5,"v":750},{"t":18.85,"d":43.7,"v":1200},{"t":18.85,"d":36.3,"v":750},{"t":18.85,"d":30.2,"v":380},{"t":18.85,"d":25.1,"v":750},{"t":18.85,"d":20.9,"v":380},{"t":18.85,"d":17.4,"v":150},{"t":18.85,"d":14.5,"v":380},{"t":18.85,"d":12,"v":150},{"t":18.85,"d":10,"v":50},{"t":18.85,"d":6.92,"v":50},
{"t":18.95,"d":91.2,"v":150},{"t":18.95,"d":75.9,"v":380},{"t":18.95,"d":63.1,"v":750},{"t":18.95,"d":52.5,"v":750},{"t":18.95,"d":43.7,"v":750},{"t":18.95,"d":36.3,"v":380},{"t":18.95,"d":30.2,"v":750},{"t":18.95,"d":25.1,"v":380},{"t":18.95,"d":20.9,"v":150},{"t":18.95,"d":17.4,"v":380},{"t":18.95,"d":14.5,"v":150},{"t":18.95,"d":12,"v":150},{"t":18.95,"d":8.32,"v":12},
{"t":19.05,"d":91.2,"v":150},{"t":19.05,"d":75.9,"v":380},{"t":19.05,"d":63.1,"v":750},{"t":19.05,"d":52.5,"v":380},{"t":19.05,"d":43.7,"v":750},{"t":19.05,"d":36.3,"v":380},{"t":19.05,"d":30.2,"v":380},{"t":19.05,"d":25.1,"v":150},{"t":19.05,"d":20.9,"v":380},{"t":19.05,"d":17.4,"v":150},{"t":19.05,"d":14.5,"v":150},{"t":19.05,"d":12,"v":50},{"t":19.05,"d":10,"v":12},{"t":19.05,"d":6.92,"v":150},
{"t":19.15,"d":91.2,"v":150},{"t":19.15,"d":75.9,"v":150},{"t":19.15,"d":63.1,"v":380},{"t":19.15,"d":52.5,"v":380},{"t":19.15,"d":43.7,"v":380},{"t":19.15,"d":36.3,"v":150},{"t":19.15,"d":30.2,"v":380},{"t":19.15,"d":25.1,"v":150},{"t":19.15,"d":20.9,"v":150},{"t":19.15,"d":17.4,"v":50},{"t":19.15,"d":14.5,"v":150},{"t":19.15,"d":12,"v":150},{"t":19.15,"d":10,"v":50},
{"t":19.25,"d":91.2,"v":50},{"t":19.25,"d":75.9,"v":150},{"t":19.25,"d":63.1,"v":380},{"t":19.25,"d":52.5,"v":150},{"t":19.25,"d":43.7,"v":380},{"t":19.25,"d":36.3,"v":150},{"t":19.25,"d":30.2,"v":150},{"t":19.25,"d":20.9,"v":150},{"t":19.25,"d":17.4,"v":50},{"t":19.25,"d":14.5,"v":150},{"t":19.25,"d":12,"v":50},
{"t":19.35,"d":91.2,"v":150},{"t":19.35,"d":75.9,"v":150},{"t":19.35,"d":63.1,"v":150},{"t":19.35,"d":52.5,"v":380},{"t":19.35,"d":43.7,"v":150},{"t":19.35,"d":36.3,"v":50},{"t":19.35,"d":30.2,"v":150},{"t":19.35,"d":25.1,"v":50},{"t":19.35,"d":20.9,"v":150},{"t":19.35,"d":14.5,"v":150},{"t":19.35,"d":12,"v":50},
{"t":19.45,"d":91.2,"v":50},{"t":19.45,"d":75.9,"v":150},{"t":19.45,"d":63.1,"v":150},{"t":19.45,"d":52.5,"v":150},{"t":19.45,"d":43.7,"v":150},{"t":19.45,"d":30.2,"v":150},{"t":19.45,"d":25.1,"v":150},{"t":19.45,"d":17.4,"v":50},{"t":19.45,"d":14.5,"v":150},{"t":19.45,"d":10,"v":50},
{"t":19.55,"d":91.2,"v":150},{"t":19.55,"d":75.9,"v":50},{"t":19.55,"d":63.1,"v":150},{"t":19.55,"d":52.5,"v":150},{"t":19.55,"d":36.3,"v":150},{"t":19.55,"d":30.2,"v":50},{"t":19.55,"d":25.1,"v":150},{"t":19.55,"d":20.9,"v":50},{"t":19.55,"d":14.5,"v":50},
{"t":19.65,"d":75.9,"v":150},{"t":19.65,"d":63.1,"v":150},{"t":19.65,"d":52.5,"v":50},{"t":19.65,"d":43.7,"v":150},{"t":19.65,"d":36.3,"v":150},{"t":19.65,"d":25.1,"v":150},{"t":19.65,"d":20.9,"v":50},{"t":19.65,"d":17.4,"v":150},{"t":19.65,"d":12,"v":12},
{"t":19.75,"d":91.2,"v":50},{"t":19.75,"d":75.9,"v":150},{"t":19.75,"d":52.5,"v":150},{"t":19.75,"d":43.7,"v":50},{"t":19.75,"d":36.3,"v":150},{"t":19.75,"d":30.2,"v":50},{"t":19.75,"d":20.9,"v":150},{"t":19.75,"d":14.5,"v":50},
{"t":19.85,"d":75.9,"v":50},{"t":19.85,"d":63.1,"v":150},{"t":19.85,"d":52.5,"v":150},{"t":19.85,"d":36.3,"v":150},{"t":19.85,"d":30.2,"v":150},{"t":19.85,"d":25.1,"v":50},{"t":19.85,"d":17.4,"v":150},
{"t":19.95,"d":91.2,"v":50},{"t":19.95,"d":75.9,"v":150},{"t":19.95,"d":63.1,"v":50},{"t":19.95,"d":43.7,"v":150},{"t":19.95,"d":36.3,"v":50},{"t":19.95,"d":30.2,"v":150},{"t":19.95,"d":20.9,"v":50},{"t":19.95,"d":14.5,"v":12},
{"t":20.05,"d":75.9,"v":150},{"t":20.05,"d":63.1,"v":150},{"t":20.05,"d":52.5,"v":50},{"t":20.05,"d":43.7,"v":150},{"t":20.05,"d":30.2,"v":150},{"t":20.05,"d":25.1,"v":50},{"t":20.05,"d":17.4,"v":50},
{"t":20.15,"d":75.9,"v":50},{"t":20.15,"d":63.1,"v":150},{"t":20.15,"d":43.7,"v":50},{"t":20.15,"d":36.3,"v":150},{"t":20.15,"d":25.1,"v":50},
{"t":20.25,"d":63.1,"v":50},{"t":20.25,"d":52.5,"v":150},{"t":20.25,"d":36.3,"v":50},{"t":20.25,"d":30.2,"v":12},{"t":20.25,"d":20.9,"v":50}
 ]},
 "layer": [
  {
   "transform": [{"filter": "datum.t < 18"}],
   "mark": {"type": "point", "shape": "M-1,-1.04H1V1.04H-1Z", "filled": true, "size": 110, "opacity": 1, "strokeWidth": 0, "clip": true},
   "encoding": {
    "x": {"field": "t", "type": "quantitative", "scale": {"domain": [15.39, 20.34], "nice": false, "zero": false},
          "axis": {"orient": "bottom", "values": [15.5,15.75,16,16.25,16.5,16.75,17,17.25,17.5,17.75,18,18.25,18.5,18.75,19,19.25,19.5,19.75,20,20.25], "labelExpr": "(datum.value * 2) % 1 == 0 ? floor(datum.value) + ':' + (datum.value % 1 == 0 ? '00' : '30') : ''", "title": "(hour:min)", "titlePadding": 3}},
    "y": {"field": "d", "type": "quantitative", "scale": {"type": "log", "domain": [5.38, 100], "nice": false},
          "axis": {"orient": "left", "values": [6,7,8,9,10,20,30,40,50,60,70,80,90,100], "labelExpr": "datum.value == 10 ? '10¹' : datum.value == 100 ? '10²' : ''", "title": "Diameter (nm)", "titlePadding": 9}},
    "color": {"field": "v", "type": "quantitative",
          "scale": {"type": "log", "domain": [1,2.5,4,10,30,100,200,400,800,1500,2200,3200,4300], "range": ["#8a00ff","#3c00ff","#0018ff","#00d0ff","#00ffb0","#00ff20","#40ff00","#b8ff00","#ffff00","#ffb000","#ff6000","#ff1400","#ff0000"]},
          "legend": {"orient": "none", "legendX": 530, "legendY": 312, "direction": "vertical", "title": null, "padding": 0, "gradientLength": 165, "gradientThickness": 21, "values": [1,10,100,1000], "labelExpr": "datum.value == 1 ? '10⁰' : datum.value == 10 ? '10¹' : datum.value == 100 ? '10²' : '10³'", "labelFontSize": 12, "labelColor": "#151515", "labelOffset": 3, "gradientStrokeColor": "#777", "gradientStrokeWidth": 0.5}}
   }
  },
  {
   "transform": [{"filter": "datum.t >= 18"}],
   "mark": {"type": "point", "shape": "M-1,-1.04H1V1.04H-1Z", "filled": true, "size": 110, "opacity": 1, "strokeWidth": 0, "clip": true},
   "encoding": {
    "x": {"field": "t", "type": "quantitative", "scale": {"domain": [15.39, 20.34], "nice": false, "zero": false},
          "axis": {"orient": "top", "values": [15.5,15.75,16,16.25,16.5,16.75,17,17.25,17.5,17.75,18,18.25,18.5,18.75,19,19.25,19.5,19.75,20,20.25], "labels": false, "title": null}},
    "y": {"field": "d", "type": "quantitative", "scale": {"type": "log", "domain": [5.38, 100], "nice": false},
          "axis": {"orient": "right", "values": [6,7,8,9,10,20,30,40,50,60,70,80,90,100], "labels": false, "title": null}},
    "color": {"field": "v", "type": "quantitative",
          "scale": {"type": "log", "domain": [1,2.5,4,10,30,100,200,400,800,1500,2200,3200,4300], "range": ["#8a00ff","#3c00ff","#0018ff","#00d0ff","#00ffb0","#00ff20","#40ff00","#b8ff00","#ffff00","#ffb000","#ff6000","#ff1400","#ff0000"]}}
   }
  }
 ],
 "resolve": {"axis": {"x": "independent", "y": "independent"}}
}
]
}
